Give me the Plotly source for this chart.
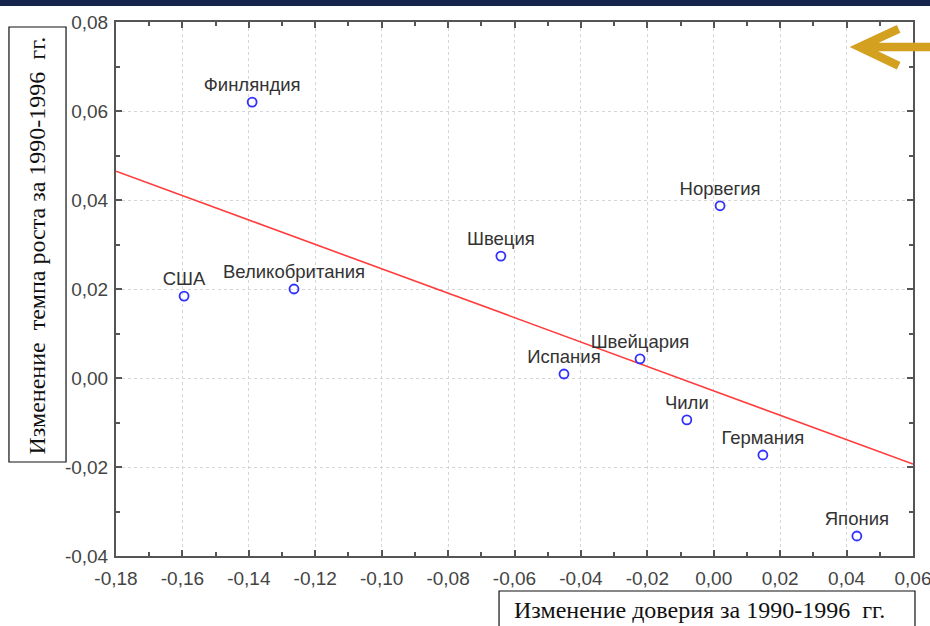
import numpy as np
import plotly.graph_objects as go

countries = ["Финляндия", "США", "Великобритания", "Швеция", "Испания",
             "Швейцария", "Норвегия", "Чили", "Германия", "Япония"]
trust_change = [-0.139, -0.1595, -0.1264, -0.0641, -0.0451,
                -0.0222, 0.0019, -0.0081, 0.0148, 0.0431]
growth_change = [0.062, 0.0184, 0.0200, 0.0274, 0.0009,
                 0.0043, 0.0387, -0.0094, -0.0173, -0.0355]

x_ticks = [-0.18, -0.16, -0.14, -0.12, -0.10, -0.08, -0.06, -0.04, -0.02, 0.00, 0.02, 0.04, 0.06]
x_tick_text = ["-0,18", "-0,16", "-0,14", "-0,12", "-0,10", "-0,08", "-0,06", "-0,04",
               "-0,02", "0,00", "0,02", "0,04", "0,06"]
y_ticks = [-0.04, -0.02, 0.00, 0.02, 0.04, 0.06, 0.08]
y_tick_text = ["-0,04", "-0,02", "0,00", "0,02", "0,04", "0,06", "0,08"]

x_range = [-0.18, 0.06]
y_range = [-0.04, 0.08]

x_title = "Изменение доверия за 1990-1996  гг."
y_title = "Изменение  темпа роста за 1990-1996  гг."

slope, intercept = np.polyfit(trust_change, growth_change, 1)
fit_x = np.array(x_range)
fit_y = slope * fit_x + intercept

fig = go.Figure()
fig.add_trace(go.Scatter(
    x=fit_x, y=fit_y, mode="lines",
    line=dict(color="#ff3b3b", width=1.6),
    hoverinfo="skip", showlegend=False))
fig.add_trace(go.Scatter(
    x=trust_change, y=growth_change, mode="markers+text",
    text=countries, textposition="top center",
    textfont=dict(family="Liberation Sans, Arial", size=18.5, color="#333"),
    marker=dict(symbol="circle-open", size=9, color="#3030ff", line=dict(width=1.8, color="#3030ff")),
    showlegend=False))

axis_common = dict(
    ticks="inside", ticklen=6, tickwidth=1.5, tickcolor="#555",
    showline=True, linecolor="#555", linewidth=2, mirror="ticks",
    showgrid=True, gridcolor="#d6d6d6", griddash="dot", gridwidth=1,
    zeroline=False, automargin=False, ticklabeloverflow="allow",
    tickfont=dict(family="Liberation Sans, Arial", size=19, color="#444"),
)

fig.update_xaxes(range=x_range, tickvals=x_ticks, ticktext=x_tick_text,
                 minor=dict(ticks="inside", ticklen=4, tickcolor="#555", dtick=0.01, tick0=0, showgrid=False),
                 ticklabelstandoff=4, **axis_common)
fig.update_yaxes(range=y_range, tickvals=y_ticks, ticktext=y_tick_text,
                 minor=dict(ticks="inside", ticklen=4, tickcolor="#555", dtick=0.01, tick0=0, showgrid=False),
                 ticklabelstandoff=2, **axis_common)

shapes = [
    # dark band at top
    dict(type="rect", xref="paper", yref="paper", x0=-0.2, x1=1.05, y0=1.0300, y1=1.06,
         fillcolor="#15244a", line=dict(width=0), layer="above"),
    # y-title box
    dict(type="rect", xref="paper", yref="paper", x0=-0.1343, x1=-0.0627, y0=0.176, y1=0.9906,
         fillcolor="white", line=dict(color="#111", width=1.2)),
    # x-title box
    dict(type="rect", xref="paper", yref="paper", x0=0.4806, x1=1.0025, y0=-0.157, y1=-0.0655,
         fillcolor="white", line=dict(color="#111", width=1.2)),
    # decorative arrow
    dict(type="path", xref="paper", yref="paper",
         path="M 0.982,0.9870 L 0.9330,0.9532 L 0.982,0.9180 M 0.9330,0.9532 L 1.03,0.9532",
         line=dict(color="#d4a020", width=8.5), layer="above"),
]

annotations = [
    dict(text=y_title, xref="paper", yref="paper", x=-0.0985, y=0.5824, textangle=-90,
         showarrow=False, xanchor="center", yanchor="middle",
         font=dict(family="Liberation Serif, Times New Roman", size=24, color="#111")),
    dict(text=x_title, xref="paper", yref="paper", x=0.7315, y=-0.1011,
         showarrow=False, xanchor="center", yanchor="middle",
         font=dict(family="Liberation Serif, Times New Roman", size=24, color="#111")),
]

fig.update_layout(
    width=930, height=626,
    margin=dict(l=116, r=17, t=22, b=70, autoexpand=False),
    paper_bgcolor="white", plot_bgcolor="white",
    shapes=shapes, annotations=annotations,
    showlegend=False,
)

fig.write_html("out.html",
               config=dict(displayModeBar=False, displaylogo=False),
               post_script="document.body.style.margin='0';document.body.style.overflow='hidden';")
